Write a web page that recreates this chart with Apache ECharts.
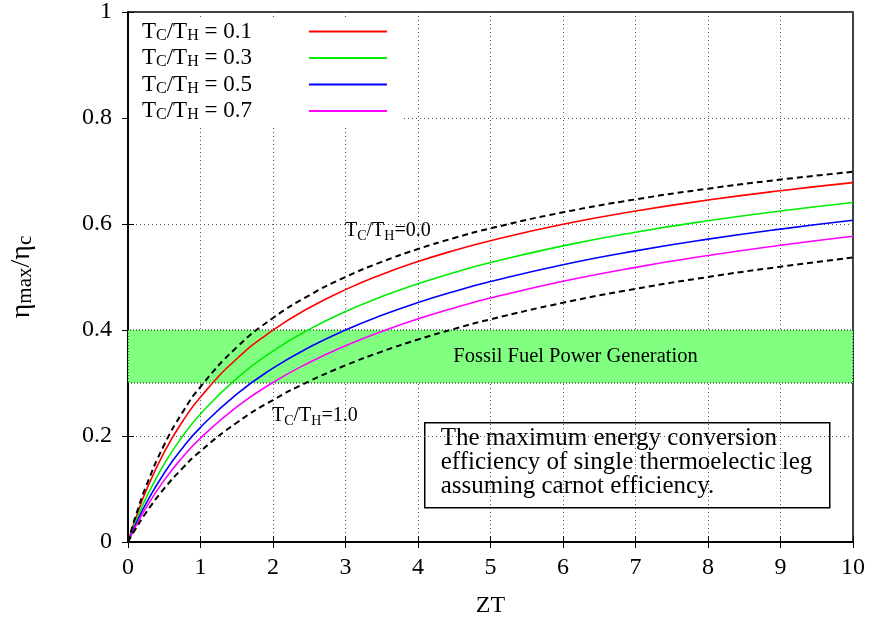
<!DOCTYPE html>
<html><head><meta charset="utf-8">
<script src="https://cdn.jsdelivr.net/npm/echarts@6/dist/echarts.min.js"></script>
<style>html,body{margin:0;padding:0;background:#fff}#c{width:873px;height:623px}</style>
</head><body><div id="c"></div>
<script>
// ZT sample points
const zt = [0,0.05,0.1,0.25,0.5,0.75,1,1.5,2,2.5,3,3.5,4,4.5,5,6,7,8,9,10];
// eta_max/eta_c read for each TC/TH ratio
const ratio00 = [0,0.0241,0.0465,0.1056,0.1835,0.2441,0.2929,0.3675,0.4226,0.4655,0.5,0.5286,0.5528,0.5736,0.5918,0.6220,0.6464,0.6667,0.6838,0.6985];
const ratio01 = [0,0.0220,0.0425,0.0969,0.1697,0.2269,0.2736,0.3457,0.3996,0.4419,0.4762,0.5048,0.5291,0.5501,0.5685,0.5994,0.6244,0.6452,0.6628,0.6780];
const ratio03 = [0,0.0186,0.0362,0.0832,0.1474,0.1990,0.2416,0.3089,0.3603,0.4012,0.4348,0.4631,0.4874,0.5085,0.5272,0.5587,0.5845,0.6061,0.6245,0.6405];
const ratio05 = [0,0.0162,0.0315,0.0729,0.1303,0.1771,0.2164,0.2792,0.3280,0.3673,0.4000,0.4278,0.4518,0.4728,0.4914,0.5232,0.5493,0.5714,0.5904,0.6070];
const ratio07 = [0,0.0143,0.0279,0.0649,0.1168,0.1596,0.1959,0.2548,0.3010,0.3387,0.3704,0.3974,0.4210,0.4417,0.4602,0.4919,0.5182,0.5405,0.5598,0.5768];
const ratio10 = [0,0.0122,0.0238,0.0557,0.1010,0.1390,0.1716,0.2251,0.2679,0.3033,0.3333,0.3592,0.3820,0.4021,0.4202,0.4514,0.4776,0.5000,0.5195,0.5367];
const legendRatios = ['0.1','0.3','0.5','0.7'];
const fossilBand = [0.3, 0.4];
const xTickLabels = ['0','1','2','3','4','5','6','7','8','9','10'];
const yTickLabels = ['0','0.2','0.4','0.6','0.8','1'];

const FONT = "'Liberation Serif','Times New Roman',serif";
const pts = ys => zt.map((x,i)=>[x, ys[i]]);

const chart = echarts.init(document.getElementById('c'), null, {renderer:'canvas'});
const colors = ['#ff0000','#00ee00','#0000ff','#ff00ff'];
const curveData = [ratio01, ratio03, ratio05, ratio07];

const series = [];
// band holder
series.push({
  type:'line', name:'band', data:[], z:1, silent:true,
  markArea:{
    silent:true,
    itemStyle:{color:'#80ff80', opacity:1, borderColor:'#000', borderWidth:1, borderType:[1,2]},
    label:{show:true, position:'inside', offset:[85,0], color:'#000', fontFamily:FONT, fontSize:20.5, formatter:'Fossil Fuel Power Generation'},
    data:[[{yAxis:fossilBand[0]},{yAxis:fossilBand[1]}]]
  }
});
curveData.forEach((d,i)=>{
  series.push({
    type:'line', name:'TC/TH = '+legendRatios[i], data:pts(d), smooth:0.5,
    showSymbol:false, z:3, lineStyle:{color:colors[i], width:1.6}, itemStyle:{color:colors[i]}
  });
});
[ratio00, ratio10].forEach((d,i)=>{
  series.push({
    type:'line', name:'dash'+i, data:pts(d), smooth:0.5,
    showSymbol:false, z:3, lineStyle:{color:'#000', width:2, type:[6,4]}, itemStyle:{color:'#000'}
  });
});

const subRich = (main, sub, subLH) => ({
  n:{fontSize:main, fontFamily:FONT, color:'#000', lineHeight:24},
  s:{fontSize:sub, fontFamily:FONT, color:'#000', lineHeight:subLH, verticalAlign:'bottom'}
});

const legendRich = subRich(23,16,8);
legendRich.g = {fontSize:23, fontFamily:FONT, lineHeight:24, width:52};

const axisCommon = {
  axisLine:{show:true, lineStyle:{color:'#000', width:1.5}},
  axisTick:{show:true, inside:true, length:6, lineStyle:{color:'#000', width:1}},
};

chart.setOption({
  animation:false,
  grid:{left:127, right:20, top:12, bottom:80, show:true, borderColor:'#000', borderWidth:1.5},
  legend:{
    data:legendRatios.map(r=>'TC/TH = '+r),
    orient:'vertical', left:129, top:19, align:'right',
    padding:[1,15,4,13], itemGap:3, backgroundColor:'#fff',
    icon:'rect', itemWidth:78, itemHeight:2, selectedMode:false,
    formatter: name => '{n|T}{s|C}{n|/T}{s|H}{n| = '+name.split('= ')[1]+'}{g| }',
    textStyle:{rich:legendRich}
  },
  xAxis:[
    Object.assign({type:'value', min:0, max:10, interval:1, position:'bottom',
      axisLabel:{fontSize:24, fontFamily:FONT, color:'#000', margin:14, formatter:v=>xTickLabels[Math.round(v)]},
      splitLine:{show:true, lineStyle:{color:'#555', width:1, type:[1,3]}},
      name:'ZT', nameLocation:'middle', nameGap:52, nameTextStyle:{fontSize:24, fontFamily:FONT, color:'#000'}
    }, axisCommon),
    Object.assign({type:'value', min:0, max:10, interval:1, position:'top',
      axisLabel:{show:false}, splitLine:{show:false}}, axisCommon)
  ],
  yAxis:[
    Object.assign({type:'value', min:0, max:1, interval:0.2, position:'left',
      axisLabel:{fontSize:24, fontFamily:FONT, color:'#000', margin:16, formatter:v=>yTickLabels[Math.round(v*5)]},
      splitLine:{show:true, lineStyle:{color:'#555', width:1, type:[1,3]}},
      name:'{n|η}{s|max}{n|/η}{s|c}', nameLocation:'middle', nameGap:92,
      nameTextStyle:{rich:{
        n:{fontSize:28, fontFamily:FONT, color:'#000', lineHeight:28},
        s:{fontSize:21, fontFamily:FONT, color:'#000', lineHeight:8, verticalAlign:'bottom'}
      }}
    }, axisCommon),
    Object.assign({type:'value', min:0, max:1, interval:0.2, position:'right',
      axisLabel:{show:false}, splitLine:{show:false}}, axisCommon)
  ],
  graphic:[
    {type:'text', left:345, top:221, z:100, silent:true,
     style:{text:'{n|T}{s|C}{n|/T}{s|H}{n|=0.0}', rich:subRich(20,14,10)}},
    {type:'text', left:272, top:406, z:100, silent:true,
     style:{text:'{n|T}{s|C}{n|/T}{s|H}{n|=1.0}', rich:subRich(20,14,10)}},
    {type:'group', left:424, top:422, z:100, silent:true, children:[
      {type:'rect', shape:{x:0,y:0,width:405,height:85}, style:{fill:'#fff', stroke:'#000', lineWidth:1.5}},
      {type:'text', x:16, y:4, style:{text:'The maximum energy conversion\nefficiency of single thermoelectic leg\nassuming carnot efficiency.',
        fontSize:25, lineHeight:24, fontFamily:FONT, fill:'#000'}}
    ]}
  ],
  series
});
</script>
</body></html>
